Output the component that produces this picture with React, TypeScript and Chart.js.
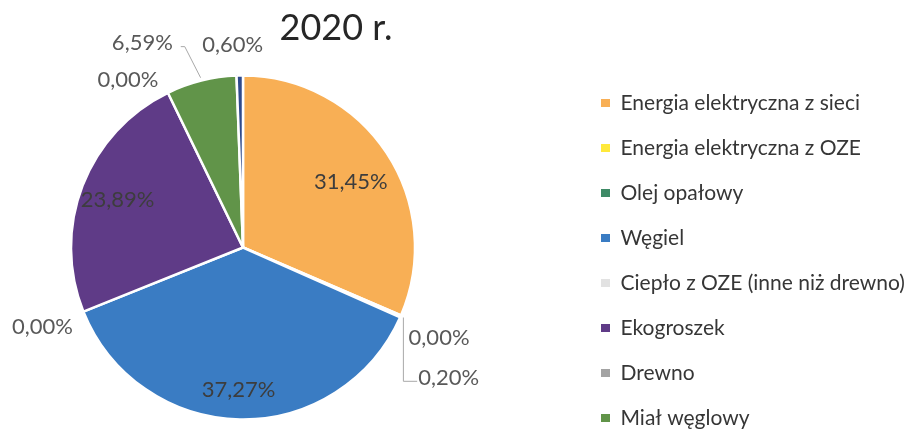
import React, { useEffect, useRef } from 'react';
import { Chart, registerables } from 'chart.js';

Chart.register(...registerables);

const TITLE = '2020 r.';
const CATEGORIES = [
  'Energia elektryczna z sieci',
  'Energia elektryczna z OZE',
  'Olej opałowy',
  'Węgiel',
  'Ciepło z OZE (inne niż drewno)',
  'Ekogroszek',
  'Drewno',
  'Miał węglowy',
  'Gaz ziemny',
];
const SHARES = [31.45, 0.0, 0.2, 37.27, 0.0, 23.89, 0.0, 6.59, 0.6];
const COLORS = ['#F8AF55', '#FFE93B', '#3E8A66', '#3A7CC3', '#E2E2E2', '#5F3B87', '#A3A3A3', '#619449', '#2E4A8C'];
const LEGEND_COUNT = 8; // the reference legend shows eight entries

// label layout: radial fraction of the anchor and a pixel nudge from it
const LABEL_RADIUS = [0.8, 1, 1, 0.8, 1, 0.8, 1, 1, 1];
const LABEL_SHIFT = [[-7, 10], [38, 23], [48, 62], [-2, 5], [-41, 15], [3, 2], [-40, -13], [-59, -38], [-7, -31]];
const LABEL_LEADER = ['', '', 'elbow', '', '', '', '', 'diag', ''];

const W = 921;
const H = 431;
const SHIFT_X = 91; // canvas extends past the left edge so the pie sits left of the legend
const EXTRA_H = 39; // canvas extends past the bottom edge so the legend stays in one column
const FONT = 'Lato';

const fmt = (v: number) => v.toFixed(2).replace('.', ',') + '%';

export default function App() {
  const ref = useRef<HTMLCanvasElement>(null);

  useEffect(() => {
    const canvas = ref.current;
    if (!canvas) return;

    const legendFontSize = 21;
    const boxW = 9;
    const itemGap = 24;
    const meas = document.createElement('canvas').getContext('2d')!;
    meas.font = `${legendFontSize}px ${FONT}`;
    const widest = Math.max(...CATEGORIES.slice(0, LEGEND_COUNT).map((t) => meas.measureText(t).width));
    const legendWidth = itemGap + boxW + legendFontSize / 2 + widest + 10;
    const legendLeft = 577 + SHIFT_X;
    const padRight = Math.max(0, W + SHIFT_X - legendLeft - legendWidth);
    const pieCy = 247.5;
    const areaBottom = H + EXTRA_H;
    const areaTop = 2 * pieCy - areaBottom;
    const legendFirstY = 103 - legendFontSize / 2;
    const legendTitleH = Math.max(0, legendFirstY - itemGap - areaTop);

    const titlePlugin = {
      id: 'sideTitle',
      afterDraw(chart: any) {
        const ctx = chart.ctx;
        ctx.save();
        ctx.font = `36px ${FONT}`;
        ctx.fillStyle = '#262626';
        ctx.textAlign = 'center';
        ctx.textBaseline = 'alphabetic';
        ctx.fillText(TITLE, 336 + SHIFT_X, 40);
        ctx.restore();
      },
    };

    const labelPlugin = {
      id: 'sliceLabels',
      afterDatasetsDraw(chart: any) {
        const ctx = chart.ctx;
        const meta = chart.getDatasetMeta(0);
        ctx.save();
        ctx.font = `22px ${FONT}`;
        ctx.textAlign = 'center';
        ctx.textBaseline = 'middle';
        meta.data.forEach((arc: any, i: number) => {
          const p = arc.getProps(['x', 'y', 'startAngle', 'endAngle', 'outerRadius'], true);
          const mid = (p.startAngle + p.endAngle) / 2;
          const rr = p.outerRadius * LABEL_RADIUS[i];
          const ax = p.x + Math.cos(mid) * rr;
          const ay = p.y + Math.sin(mid) * rr;
          const lx = ax + LABEL_SHIFT[i][0];
          const ly = ay + LABEL_SHIFT[i][1];
          const text = fmt(SHARES[i]);
          const inside = LABEL_RADIUS[i] < 1;
          ctx.fillStyle = inside ? '#3d3d3d' : '#595959';
          ctx.fillText(text, lx, ly);
          const tw = ctx.measureText(text).width;
          const leader = LABEL_LEADER[i];
          if (leader) {
            ctx.strokeStyle = '#a8a8a8';
            ctx.lineWidth = 1;
            const sx = p.x + Math.cos(mid) * (p.outerRadius + 3);
            const sy = p.y + Math.sin(mid) * (p.outerRadius + 3);
            ctx.beginPath();
            if (leader === 'elbow') {
              ctx.moveTo(sx, sy);
              ctx.lineTo(sx, ly + 3);
              ctx.lineTo(lx - tw / 2 - 1, ly + 3);
            } else {
              ctx.moveTo(sx, sy);
              ctx.lineTo(lx + tw / 2 + 12, ly + 4);
              ctx.lineTo(lx + tw / 2 + 8, ly + 4);
            }
            ctx.stroke();
          }
        });
        ctx.restore();
      },
    };

    const chart = new Chart(canvas, {
      type: 'pie',
      data: {
        labels: CATEGORIES,
        datasets: [
          {
            data: SHARES,
            backgroundColor: COLORS,
            borderColor: '#ffffff',
            borderWidth: 2.5,
            radius: 172,
          } as any,
        ],
      },
      options: {
        animation: false,
        responsive: true,
        maintainAspectRatio: false,
        layout: { padding: { left: 0, right: padRight, top: areaTop, bottom: 0 } },
        plugins: {
          tooltip: { enabled: false },
          title: { display: false },
          legend: {
            position: 'right',
            align: 'start',
            title: {
              display: legendTitleH > 0,
              text: ' ',
              font: { size: Math.max(1, legendTitleH), lineHeight: 1 },
              padding: 0,
            },
            labels: {
              boxWidth: boxW,
              boxHeight: 8,
              padding: itemGap,
              color: '#363636',
              font: { family: FONT, size: legendFontSize },
              filter: (item: any) => item.index < LEGEND_COUNT,
              generateLabels: (c: any) =>
                (Chart as any).overrides.pie.plugins.legend.labels
                  .generateLabels(c)
                  .map((it: any) => ({ ...it, lineWidth: 0, strokeStyle: 'rgba(0,0,0,0)' })),
            },
          },
        },
      } as any,
      plugins: [titlePlugin, labelPlugin],
    });

    return () => chart.destroy();
  }, []);

  return (
    <div style={{ position: 'absolute', left: 0, top: 0, width: W, height: H, overflow: 'hidden', background: '#ffffff' }}>
      <div style={{ position: 'absolute', left: -SHIFT_X, top: 0, width: W + SHIFT_X, height: H + EXTRA_H }}>
        <canvas ref={ref} />
      </div>
    </div>
  );
}
